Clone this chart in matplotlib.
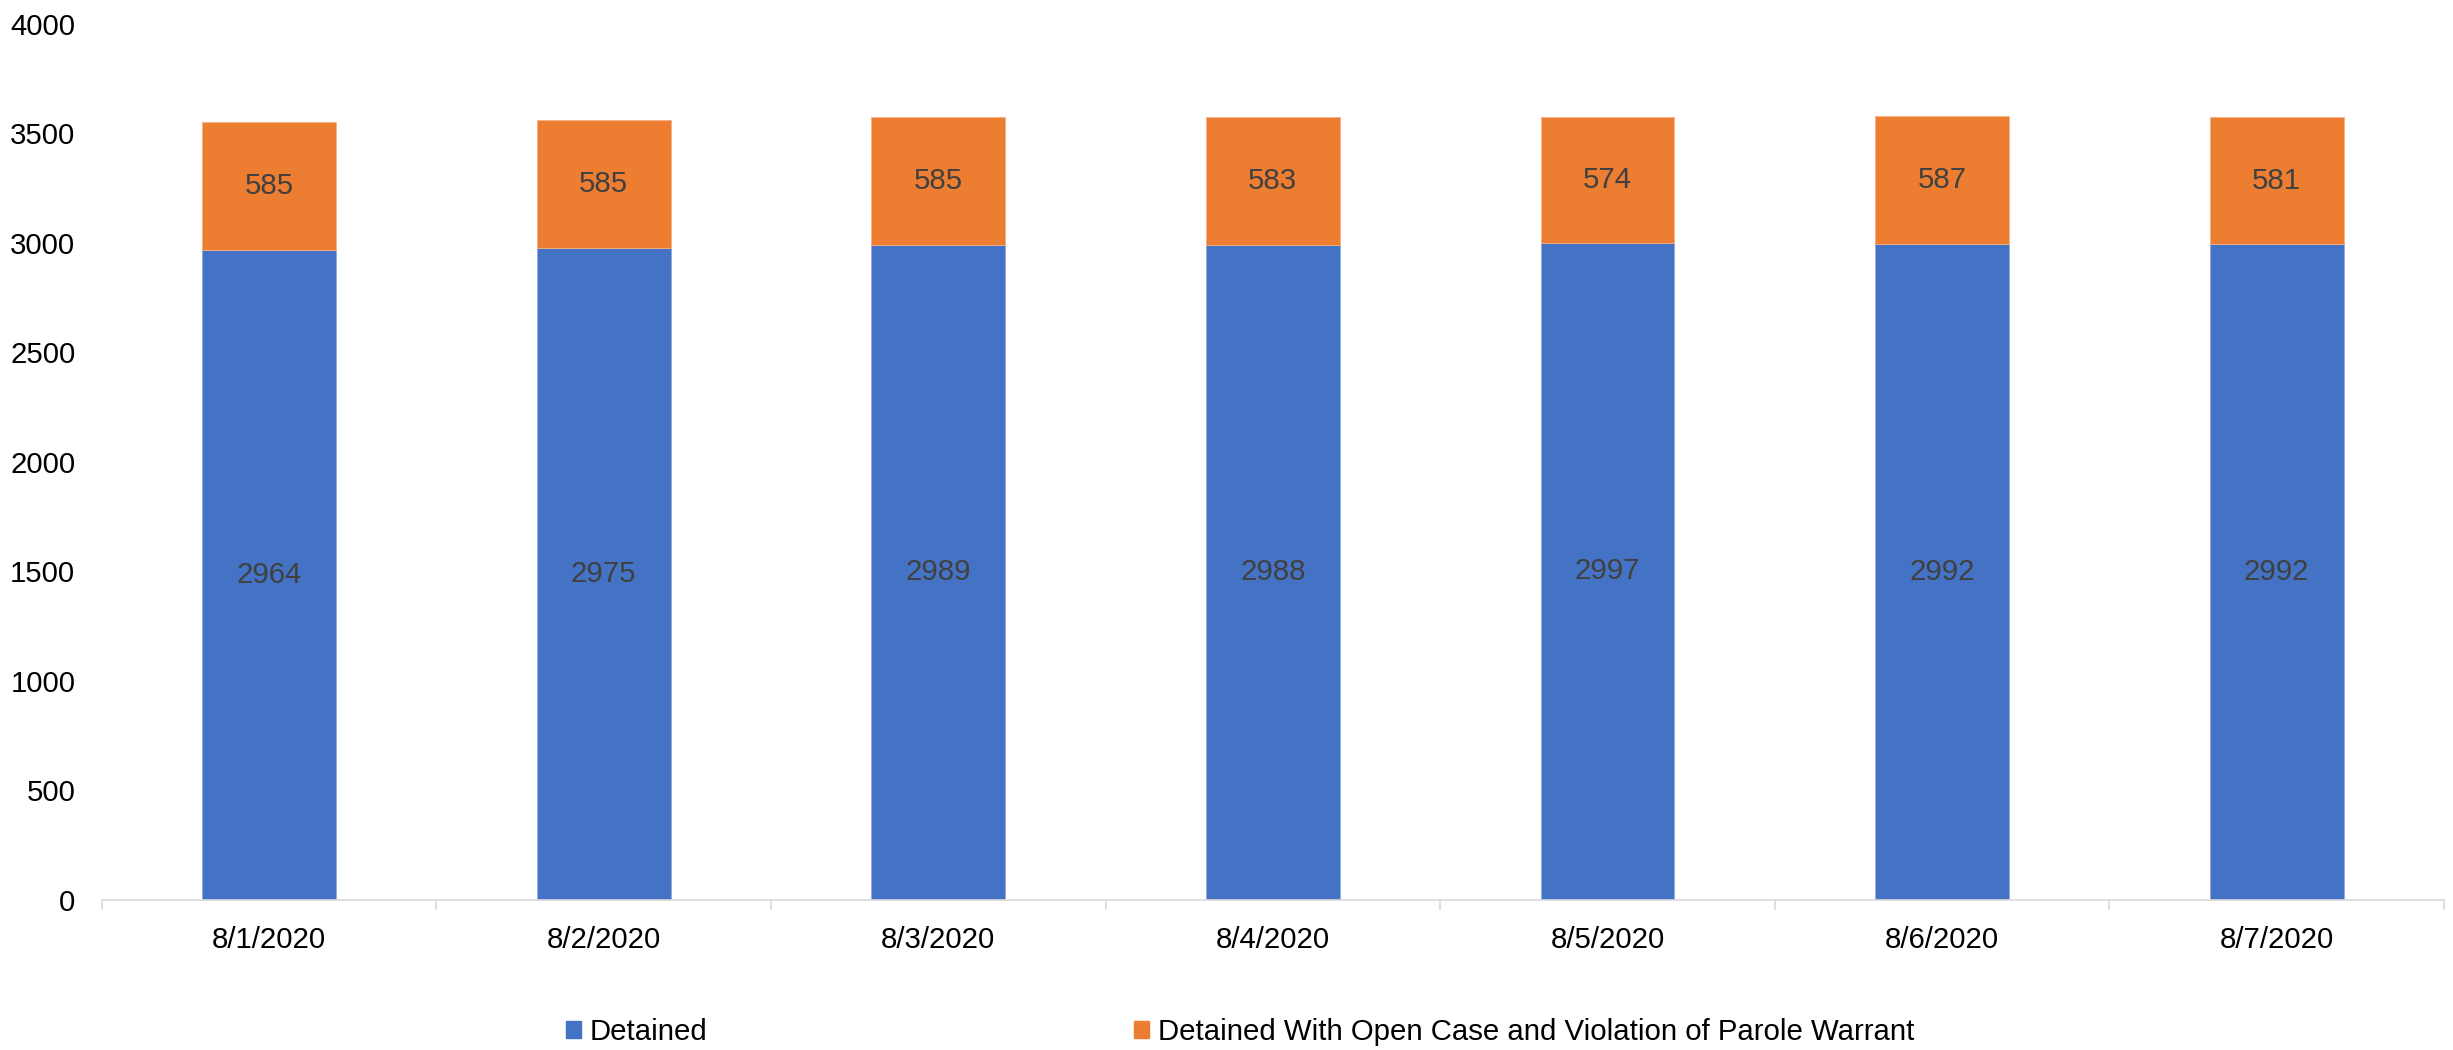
import matplotlib
matplotlib.use("Agg")
import matplotlib.pyplot as plt
from matplotlib.patches import Patch
import numpy as np

categories = ["8/1/2020", "8/2/2020", "8/3/2020", "8/4/2020", "8/5/2020", "8/6/2020", "8/7/2020"]
detained = [2964, 2975, 2989, 2988, 2997, 2992, 2992]
open_case = [585, 585, 585, 583, 574, 587, 581]
series_names = ["Detained", "Detained With Open Case and Violation of Parole Warrant"]
yticks = [0, 500, 1000, 1500, 2000, 2500, 3000, 3500, 4000]

plt.rcParams['font.family'] = ['Liberation Sans', 'DejaVu Sans']
FS = 21.2
blue = "#4472C4"
orange = "#ED7D31"

fig = plt.figure(figsize=(24.53, 10.5), dpi=100)
ax = fig.add_axes([0.04146, 0.1433, 0.99633 - 0.04146, 0.9776 - 0.1433])

x = np.arange(len(categories))
w = 0.4
b1 = ax.bar(x, detained, w, color=blue, edgecolor="#8fa9dc", linewidth=0.6)
b2 = ax.bar(x, open_case, w, bottom=detained, color=orange, edgecolor="#f4b183", linewidth=0.6)

for xi, d, o in zip(x, detained, open_case):
    ax.text(xi, d / 2, str(d), ha="center", va="center", fontsize=FS, color="#404040")
    ax.text(xi, d + o / 2, str(o), ha="center", va="center", fontsize=FS, color="#404040")

ax.set_xlim(-0.5, len(categories) - 0.5)
ax.set_ylim(0, 4000)
ax.set_yticks(yticks)
ax.set_yticklabels([str(v) for v in yticks], fontsize=FS)
ax.set_xticks(x)
ax.set_xticklabels(categories, fontsize=FS)
ax.set_xticks(np.arange(len(categories) + 1) - 0.5, minor=True)
ax.tick_params(axis="x", which="major", length=0, pad=19)
ax.tick_params(axis="x", which="minor", length=7.2, color="#d9d9d9", width=1.2)
ax.tick_params(axis="y", length=0, pad=19)

for s in ["top", "right", "left"]:
    ax.spines[s].set_visible(False)
ax.spines["bottom"].set_color("#d9d9d9")
ax.spines["bottom"].set_linewidth(1.2)

# Legend
h1 = Patch(color=blue)
h2 = Patch(color=orange)
fig.legend([h1], [series_names[0]], loc="center left", bbox_to_anchor=(566 / 2453, 1 - 1032 / 1050),
           frameon=False, fontsize=FS, handlelength=0.5, handleheight=0.5, handletextpad=0.3, borderpad=0, borderaxespad=0)
fig.legend([h2], [series_names[1]], loc="center left", bbox_to_anchor=(1134 / 2453, 1 - 1032 / 1050),
           frameon=False, fontsize=FS, handlelength=0.5, handleheight=0.5, handletextpad=0.3, borderpad=0, borderaxespad=0)

fig.savefig("out.png", dpi=100)
